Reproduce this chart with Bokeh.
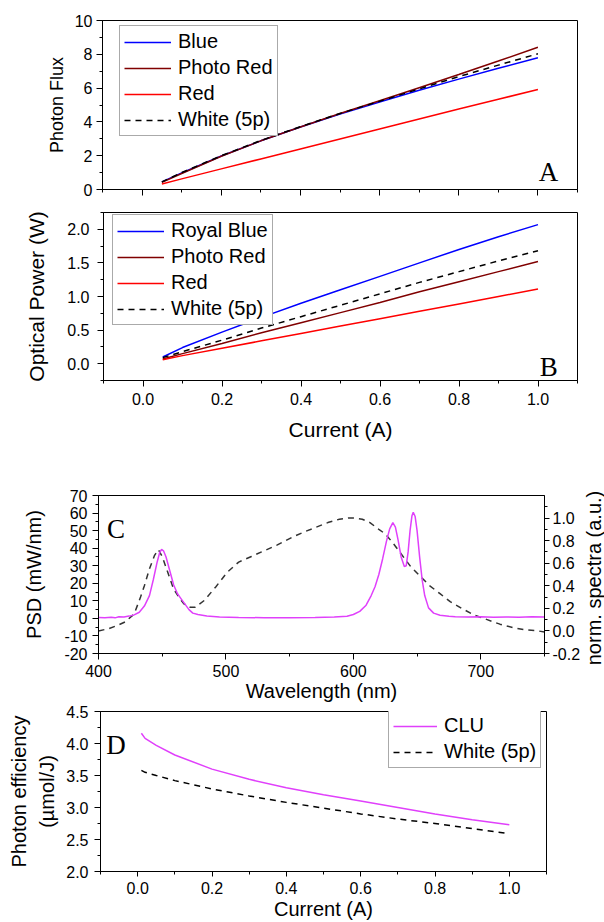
import math
from bokeh.plotting import figure
from bokeh.models import (Range1d, LinearAxis, SingleIntervalTicker, NumeralTickFormatter,
                          Legend, LegendItem, Label, Div)
from bokeh.layouts import row
from bokeh.embed import file_html
from bokeh.resources import INLINE

FONT = "Liberation Sans"
SERIF = "Liberation Serif"

# ---------------- data ----------------
current = [0.05, 0.1, 0.2, 0.3, 0.4, 0.5, 0.6, 0.7, 0.8, 0.9, 1.0]

flux_blue = [0.45, 0.98, 1.98, 2.88, 3.70, 4.47, 5.18, 5.87, 6.53, 7.17, 7.79]
flux_photored = [0.42, 0.95, 1.97, 2.88, 3.70, 4.50, 5.25, 6.02, 6.80, 7.60, 8.42]
flux_red = [0.33, 0.63, 1.22, 1.81, 2.40, 2.99, 3.58, 4.17, 4.76, 5.34, 5.92]
flux_white = [0.45, 1.00, 2.00, 2.90, 3.72, 4.50, 5.22, 5.95, 6.68, 7.36, 8.03]

pow_royalblue = [0.10, 0.24, 0.47, 0.69, 0.90, 1.10, 1.30, 1.50, 1.70, 1.89, 2.07]
pow_photored = [0.07, 0.15, 0.30, 0.46, 0.61, 0.76, 0.91, 1.07, 1.22, 1.37, 1.52]
pow_red = [0.06, 0.12, 0.23, 0.34, 0.45, 0.56, 0.67, 0.78, 0.89, 1.00, 1.11]
pow_white = [0.09, 0.18, 0.35, 0.53, 0.70, 0.87, 1.04, 1.21, 1.37, 1.53, 1.68]

clu_wl = [400, 405, 410, 413, 416, 420, 424, 428, 432, 436, 440, 443, 446, 448, 449.5,
          451, 453, 456, 459, 462, 465, 468, 471, 474, 478, 485, 495, 510, 530, 550,
          570, 585, 595, 600, 605, 610, 614, 617, 620, 623, 626, 628.5, 631, 633, 635,
          637.5, 640, 641.5, 643, 644.5, 646, 647, 648.5, 650, 652, 654, 656, 659, 663, 668,
          675, 680, 690, 700, 710, 720, 730, 740, 750]
clu_psd = [0.5, 0.3, 0.6, 0.3, 0.9, 0.8, 1.3, 2.0, 3.5, 7.0, 13.0, 22.0, 32.0, 37.5, 39.3,
           38.5, 35.0, 27.0, 19.0, 14.0, 11.0, 8.0, 5.0, 3.0, 2.2, 1.4, 0.8, 0.5, 0.4, 0.4,
           0.5, 0.8, 1.2, 2.2, 4.0, 7.5, 13.0, 18.0, 25.0, 34.0, 44.0, 51.0, 54.5, 52.0, 45.0,
           35.0, 29.5, 30.0, 38.0, 50.0, 58.5, 60.5, 58.0, 50.0, 35.0, 22.0, 13.0, 6.0, 3.0, 1.8,
           1.2, 1.0, 0.8, 0.9, 0.6, 0.8, 0.6, 0.9, 0.8]

white_wl = [400, 408, 415, 421, 428, 433, 436, 440, 444, 447, 450, 454, 459, 463, 467,
            472, 476, 483, 492, 501, 510, 520, 528, 540, 552, 562, 571, 580, 589, 596,
            601, 607, 613, 620, 625, 631, 637, 645, 652, 660, 668, 676, 685, 695, 705,
            715, 725, 735, 745, 750]
white_norm = [0.00, 0.02, 0.05, 0.08, 0.15, 0.30, 0.40, 0.55, 0.67, 0.72, 0.66, 0.53, 0.37, 0.30, 0.24,
              0.21, 0.21, 0.27, 0.39, 0.52, 0.61, 0.66, 0.70, 0.76, 0.83, 0.88, 0.92, 0.96, 0.99, 1.00,
              1.00, 0.99, 0.96, 0.90, 0.86, 0.78, 0.69, 0.57, 0.49, 0.40, 0.33, 0.26, 0.20, 0.14, 0.10,
              0.06, 0.03, 0.01, 0.00, -0.01]

eff_current = [0.01, 0.02, 0.05, 0.1, 0.2, 0.3, 0.4, 0.5, 0.6, 0.7, 0.8, 0.9, 1.0]
eff_clu = [4.16, 4.08, 3.97, 3.82, 3.60, 3.44, 3.31, 3.20, 3.10, 3.00, 2.90, 2.81, 2.73]
eff_white = [3.58, 3.55, 3.50, 3.42, 3.29, 3.18, 3.08, 2.99, 2.90, 2.82, 2.75, 2.67, 2.59]

BLUE = "#0000ff"
PHOTORED = "#800000"
RED = "#ff0000"
MAGENTA = "#e040fb"
DASH = "6 5"
LW = 1.5


def make_fig(width, height, xr, yr, mbl, mbr, mbt, mbb):
    p = figure(width=width, height=height, x_range=xr, y_range=yr,
               output_backend="svg", toolbar_location=None,
               min_border_left=mbl, min_border_right=mbr,
               min_border_top=mbt, min_border_bottom=mbb)
    p.grid.visible = False
    p.outline_line_color = "black"
    p.outline_line_width = 1
    p.outline_line_alpha = 1
    p.background_fill_color = "white"
    p.border_fill_color = "white"
    return p


def style_axis(ax, interval, minor, fmt, label=None, label_size="20px",
               tick_size="16px", standoff=5, label_standoff=5, tick_out=6):
    ax.ticker = SingleIntervalTicker(interval=interval, num_minor_ticks=minor)
    ax.formatter = NumeralTickFormatter(format=fmt)
    ax.major_tick_in = 0
    ax.major_tick_out = tick_out
    ax.minor_tick_in = 0
    ax.minor_tick_out = 3
    ax.axis_line_color = "black"
    ax.major_tick_line_color = "black"
    ax.minor_tick_line_color = "black"
    ax.major_label_text_font = FONT
    ax.major_label_text_font_size = tick_size
    ax.major_label_text_color = "black"
    ax.major_label_standoff = standoff
    ax.axis_label_text_font = FONT
    ax.axis_label_text_font_style = "normal"
    ax.axis_label_text_font_size = label_size
    ax.axis_label_text_color = "black"
    ax.axis_label_standoff = label_standoff
    if label is not None:
        ax.axis_label = label


def make_legend(items, loc, glyph_w=47):
    leg = Legend(items=items, location=loc)
    leg.label_text_font = FONT
    leg.label_text_font_size = "20px"
    leg.label_text_color = "black"
    leg.glyph_width = glyph_w
    leg.glyph_height = 22
    leg.label_height = 22
    leg.label_standoff = 7
    leg.spacing = 3
    leg.padding = 4
    leg.margin = 0
    leg.border_line_color = "#555555"
    leg.border_line_width = 1
    leg.background_fill_color = "white"
    leg.background_fill_alpha = 1
    return leg


W = 604

# ---------------- panel A ----------------
pA = make_fig(W, 200, Range1d(-0.1, 1.1), Range1d(0, 10), 102, 27, 20, 11)
style_axis(pA.xaxis[0], 0.2, 2, "0.0", tick_size="1px", standoff=0)
pA.xaxis[0].major_label_text_color = None
style_axis(pA.yaxis[0], 2, 2, "0", label="Photon Flux", label_size="18px", standoff=4, label_standoff=5)
ra1 = pA.line(current, flux_blue, line_color=BLUE, line_width=LW)
ra2 = pA.line(current, flux_photored, line_color=PHOTORED, line_width=LW)
ra3 = pA.line(current, flux_red, line_color=RED, line_width=LW)
ra4 = pA.line(current, flux_white, line_color="black", line_width=LW, line_dash=DASH)
pA.add_layout(make_legend([LegendItem(label="Blue", renderers=[ra1]),
                           LegendItem(label="Photo Red", renderers=[ra2]),
                           LegendItem(label="Red", renderers=[ra3]),
                           LegendItem(label="White (5p)", renderers=[ra4])], (17, 53)))
pA.add_layout(Label(x=1.027, y=1.02, text="A", text_font=SERIF, text_font_size="27px",
                    text_align="center", text_baseline="alphabetic", text_color="black"))

# ---------------- panel B ----------------
pB = make_fig(W, 250, Range1d(-0.1, 1.1), Range1d(-0.25, 2.25), 103, 27, 12, 70)
style_axis(pB.xaxis[0], 0.2, 2, "0.0", label="Current (A)", label_size="21px", standoff=6, label_standoff=10)
style_axis(pB.yaxis[0], 0.5, 2, "0.0", label="Optical Power (W)", label_size="21px", standoff=8, label_standoff=16)
rb1 = pB.line(current, pow_royalblue, line_color=BLUE, line_width=LW)
rb2 = pB.line(current, pow_photored, line_color=PHOTORED, line_width=LW)
rb3 = pB.line(current, pow_red, line_color=RED, line_width=LW)
rb4 = pB.line(current, pow_white, line_color="black", line_width=LW, line_dash=DASH)
pB.add_layout(make_legend([LegendItem(label="Royal Blue", renderers=[rb1]),
                           LegendItem(label="Photo Red", renderers=[rb2]),
                           LegendItem(label="Red", renderers=[rb3]),
                           LegendItem(label="White (5p)", renderers=[rb4])], (9, 55)))
pB.add_layout(Label(x=1.027, y=-0.056, text="B", text_font=SERIF, text_font_size="27px",
                    text_align="center", text_baseline="alphabetic", text_color="black"))

# ---------------- panel C ----------------
pC = make_fig(583, 254, Range1d(400, 750), Range1d(-20, 70), 98, 38, 45, 51)
pC.extra_y_ranges = {"norm": Range1d(-0.2, 1.2)}
style_axis(pC.xaxis[0], 100, 2, "0", label="Wavelength (nm)", label_size="20px", standoff=5, label_standoff=0)
style_axis(pC.yaxis[0], 10, 2, "0", label="PSD (mW/nm)", label_size="20px", standoff=5, label_standoff=16)
axR = LinearAxis(y_range_name="norm")
style_axis(axR, 0.2, 2, "0.0", standoff=3, tick_out=5)
pC.add_layout(axR, "right")
pC.line(white_wl, white_norm, y_range_name="norm", line_color="#333333", line_width=LW, line_dash=DASH)
pC.line(clu_wl, clu_psd, line_color=MAGENTA, line_width=LW)
pC.add_layout(Label(x=413.7, y=51.1, text="C", text_font=SERIF, text_font_size="27px",
                    text_align="center", text_baseline="alphabetic", text_color="black"))

# right-axis title of panel C, reading bottom-to-top as in the reference
right_title = Div(
    text=('<div style="position:absolute; left:11px; top:128px; '
          'transform:translate(-50%,-50%) rotate(-90deg); white-space:nowrap; '
          'font-family:\'Liberation Sans\'; font-size:20px; line-height:1; color:#000;">'
          'norm. spectra (a.u.)</div>'),
    width=21, height=254, margin=0,
    styles={"position": "relative", "overflow": "visible"})
rowC = row(pC, right_title, spacing=0)

# ---------------- panel D ----------------
pD = make_fig(W, 218, Range1d(-0.1, 1.1), Range1d(2.0, 4.5), 100, 58, 7, 51)
style_axis(pD.xaxis[0], 0.2, 2, "0.0", label="Current (A)", label_size="20px", standoff=5, label_standoff=1, tick_out=5)
style_axis(pD.yaxis[0], 0.5, 2, "0.0", label="Photon efficiency\n(\u00b5mol/J)", label_size="20px", standoff=6, label_standoff=5)
pD.yaxis[0].axis_label_text_line_height = 1.3
rd1 = pD.line(eff_current, eff_clu, line_color=MAGENTA, line_width=LW)
rd2 = pD.line(eff_current, eff_white, line_color="black", line_width=LW, line_dash=DASH)
pD.add_layout(make_legend([LegendItem(label="CLU", renderers=[rd1]),
                           LegendItem(label="White (5p)", renderers=[rd2])], (288, 103), glyph_w=44))
pD.add_layout(Label(x=-0.058, y=3.97, text="D", text_font=SERIF, text_font_size="27px",
                    text_align="center", text_baseline="alphabetic", text_color="black"))

# separate roots so that each panel keeps its own frame position (no cross-panel alignment)
open("out.html", "w").write(file_html([pA, pB, rowC, pD], INLINE))
